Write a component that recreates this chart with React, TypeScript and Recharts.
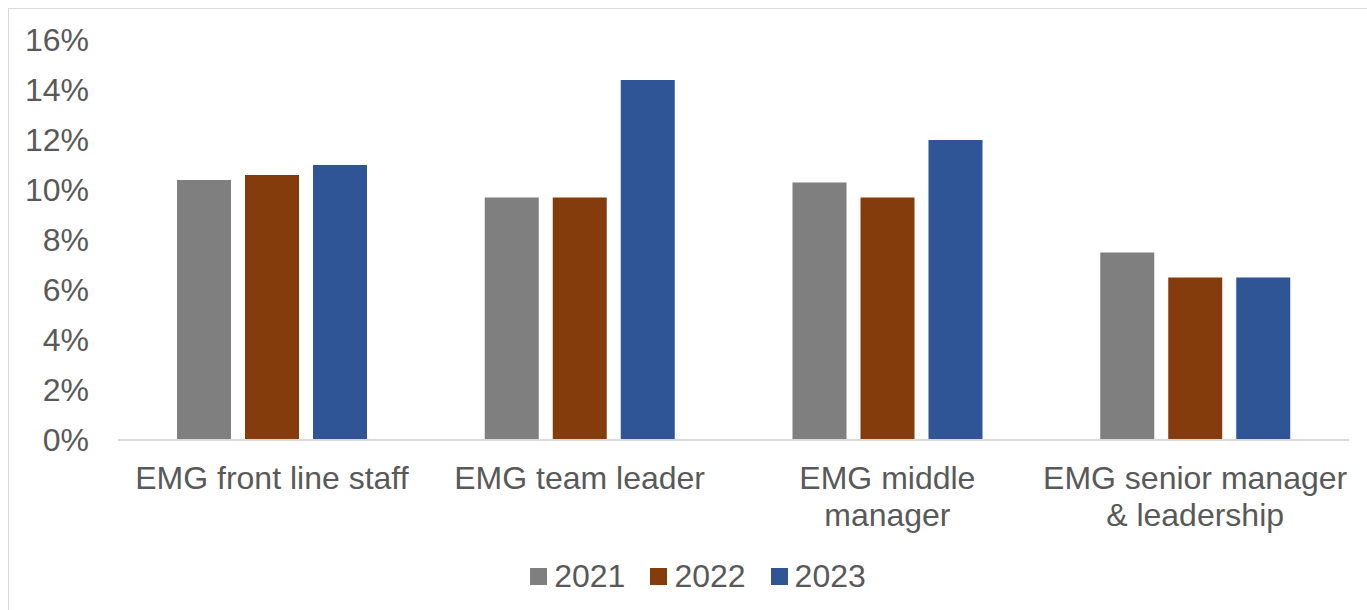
import { Bar, BarChart, Legend, XAxis, YAxis } from "recharts"

const categories = ["EMG front line staff", "EMG team leader", "EMG middle manager", "EMG senior manager & leadership"]
// how excel wrapped the category labels
const categoryLines = [
  ["EMG front line staff"],
  ["EMG team leader"],
  ["EMG middle", "manager"],
  ["EMG senior manager", "& leadership"],
]
const years = ["2021", "2022", "2023"]
const values2021 = [0.104, 0.097, 0.103, 0.075]
const values2022 = [0.106, 0.097, 0.097, 0.065]
const values2023 = [0.110, 0.144, 0.120, 0.065]
const yTicks = [0, 0.02, 0.04, 0.06, 0.08, 0.1, 0.12, 0.14, 0.16]

const colors = ["#7f7f7f", "#843c0c", "#2f5597"]
const font = "'Liberation Sans', Arial, sans-serif"
const textColor = "#595959"

const data = categories.map((name, i) => ({
  name,
  "2021": values2021[i],
  "2022": values2022[i],
  "2023": values2023[i],
}))

function CategoryTick(props: any) {
  const { x, y, payload } = props
  const idx = categories.indexOf(payload.value)
  const lines = categoryLines[idx] || [payload.value]
  return (
    <text x={x} y={y} textAnchor="middle" fill={textColor} fontSize={32} fontFamily={font}>
      {lines.map((l, i) => (
        <tspan key={i} x={x} dy={i === 0 ? 49 : 37}>{l}</tspan>
      ))}
    </text>
  )
}

function LegendContent() {
  return (
    <div style={{ display: "flex", justifyContent: "center", alignItems: "center", height: 40, paddingLeft: 20, fontFamily: font, fontSize: 32, color: textColor, lineHeight: "40px" }}>
      {years.map((y, i) => (
        <div key={y} style={{ display: "flex", alignItems: "center", marginRight: i < years.length - 1 ? 25 : 0 }}>
          <div style={{ width: 17, height: 17, background: colors[i], marginRight: 7 }} />
          <span>{y}</span>
        </div>
      ))}
    </div>
  )
}

export default function App() {
  return (
    <div style={{ position: "fixed", top: 8, left: 8, width: 1359, height: 602, borderTop: "1px solid #d9d9d9", borderLeft: "1px solid #d9d9d9", background: "#fff" }}>
      <BarChart width={1358} height={601} data={data}
        margin={{ top: 31, right: 18, left: 0, bottom: 14 }}
        barCategoryGap={59} barGap={14}>
        <XAxis dataKey="name" height={116} interval={0} tickLine={false} tickSize={0} tickMargin={0}
          axisLine={{ stroke: "#d9d9d9", strokeWidth: 2 }} tick={<CategoryTick />} />
        <YAxis width={109} domain={[0, 0.16]} ticks={yTicks} axisLine={false} tickLine={false} tickSize={0} tickMargin={29}
          tickFormatter={(v: number) => `${Math.round(v * 100)}%`}
          tick={{ fill: textColor, fontSize: 32, fontFamily: font }} />
        <Legend verticalAlign="bottom" height={40} content={<LegendContent />} wrapperStyle={{ left: 0, width: 1358 }} />
        {years.map((y, i) => (
          <Bar key={y} dataKey={y} fill={colors[i]} isAnimationActive={false} />
        ))}
      </BarChart>
    </div>
  )
}
